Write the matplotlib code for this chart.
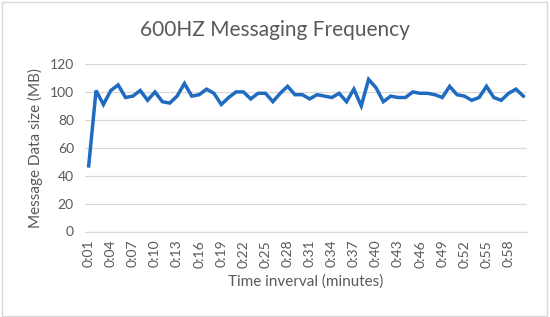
import matplotlib.pyplot as plt
from matplotlib.patches import Rectangle

# time labels, one per minute
minutes = [f"0:{m:02d}" for m in range(1, 60)] + ["1:00"]
sizes_mb = [47, 101, 91, 101, 105, 96, 97, 101, 94, 100,
            93, 92, 97, 106, 97, 98, 102, 99, 91, 96,
            100, 100, 95, 99, 99, 93, 99, 104, 98, 98,
            95, 98, 97, 96, 99, 93, 102, 90, 109, 103,
            93, 97, 96, 96, 100, 99, 99, 98, 96, 104,
            98, 97, 94, 96, 104, 96, 94, 99, 102, 97]
y_ticks = [0, 20, 40, 60, 80, 100, 120]

grey = '#595959'
plt.rcParams['font.family'] = ['Lato', 'DejaVu Sans']

fig = plt.figure(figsize=(5.5, 3.17), dpi=100)
ax = fig.add_axes([85 / 550, 1 - 231.5 / 317, 442 / 550, 167.5 / 317])

x = list(range(len(minutes)))
ax.plot(x, sizes_mb, color='#1F6BBF', linewidth=2.5, solid_joinstyle='miter')

ax.set_xlim(-0.5, len(minutes) - 0.5)
ax.set_ylim(0, 120)
ax.set_yticks(y_ticks)
ax.set_xticks(x[::3])
ax.set_xticklabels(minutes[::3], rotation=90)
ax.tick_params(length=0, colors=grey, labelsize=10)
ax.tick_params(axis='x', pad=6)
ax.tick_params(axis='y', pad=8)
ax.grid(axis='y', color='#D9D9D9', linewidth=0.9)
ax.set_axisbelow(True)
for s in ['top', 'right', 'left']:
    ax.spines[s].set_visible(False)
ax.spines['bottom'].set_color('#D9D9D9')

ax.set_xlabel('Time inverval (minutes)', color=grey, fontsize=11, labelpad=5)
ax.set_ylabel('Message Data size (MB)', color=grey, fontsize=11, labelpad=5)
fig.text(0.5, 1 - 30 / 317, '600HZ Messaging Frequency', ha='center', va='center',
         color=grey, fontsize=15)

fig.patches.append(Rectangle((0.004, 0.004), 0.99, 0.99, transform=fig.transFigure,
                             fill=False, edgecolor='#D9D9D9', linewidth=1))

plt.savefig('out.png', dpi=100)
